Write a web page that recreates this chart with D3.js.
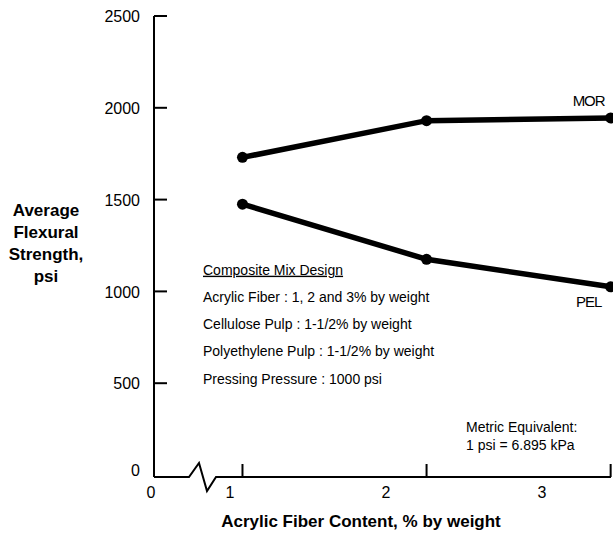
<!DOCTYPE html>
<html>
<head>
<meta charset="utf-8">
<script src="https://cdn.jsdelivr.net/npm/d3@7"></script>
<style>
  html, body { margin: 0; padding: 0; background: #fff; }
  svg { display: block; font-family: "Liberation Sans", Arial, Helvetica, sans-serif; }
</style>
</head>
<body>
<svg id="chart" width="613" height="543"></svg>
<script>
// Measured fiber contents (% by weight) for the three mixes
const fiberContent = [1.08, 2.26, 3.44];
// Average flexural strength, psi
const morValues = [1730, 1930, 1945];
const pelValues = [1475, 1175, 1025];
// Axis labels
const yTicks = [0, 500, 1000, 1500, 2000, 2500];
const xTickLabels = [1, 2, 3];
const mixDesign = [
  "Acrylic Fiber : 1, 2 and 3% by weight",
  "Cellulose Pulp : 1-1/2% by weight",
  "Polyethylene Pulp : 1-1/2% by weight",
  "Pressing Pressure : 1000 psi"
];
const metricNote = ["Metric Equivalent:", "1 psi = 6.895 kPa"];
const yTitle = ["Average", "Flexural", "Strength,", "psi"];

const svg = d3.select("#chart");

const x = d3.scaleLinear().domain([1, 3]).range([230, 542]);
const y = d3.scaleLinear().domain([0, 2500]).range([475, 16]);

const axisX0 = 154;       // y-axis position
const axisY0 = 477;       // x-axis baseline

// Y axis: vertical line with inward ticks
const gy = svg.append("g");
gy.append("line")
  .attr("x1", axisX0).attr("x2", axisX0)
  .attr("y1", y(2500)).attr("y2", axisY0)
  .attr("stroke", "#000").attr("stroke-width", 2);
gy.selectAll("line.tick").data(yTicks.filter(d => d > 0)).join("line")
  .attr("class", "tick")
  .attr("x1", axisX0).attr("x2", axisX0 + 13)
  .attr("y1", d => y(d)).attr("y2", d => y(d))
  .attr("stroke", "#000").attr("stroke-width", 2);
gy.selectAll("text").data(yTicks).join("text")
  .attr("x", axisX0 - 14)
  .attr("y", d => y(d) + (d === 0 ? -3 : 2))
  .attr("text-anchor", "end")
  .attr("dominant-baseline", "middle")
  .attr("font-size", 16)
  .text(d => d);

// X axis with a break between 0 and 1
const gx = svg.append("g");
const brk = [[axisX0, axisY0], [189, axisY0], [199, 463], [207, 491], [216, axisY0], [611, axisY0]];
gx.append("path")
  .attr("d", d3.line()(brk))
  .attr("fill", "none").attr("stroke", "#000").attr("stroke-width", 2)
  .attr("stroke-linejoin", "miter");
gx.selectAll("line.tick").data(fiberContent).join("line")
  .attr("class", "tick")
  .attr("x1", d => x(d)).attr("x2", d => x(d))
  .attr("y1", axisY0).attr("y2", axisY0 - 13)
  .attr("stroke", "#000").attr("stroke-width", 2);
gx.selectAll("text.lbl").data(xTickLabels).join("text")
  .attr("class", "lbl")
  .attr("x", d => x(d)).attr("y", 494)
  .attr("text-anchor", "middle").attr("dominant-baseline", "middle")
  .attr("font-size", 16)
  .text(d => d);
gx.append("text")
  .attr("x", 151).attr("y", 494)
  .attr("text-anchor", "middle").attr("dominant-baseline", "middle")
  .attr("font-size", 16)
  .text("0");

// Axis titles
svg.append("text")
  .attr("x", 361).attr("y", 523)
  .attr("text-anchor", "middle").attr("dominant-baseline", "middle")
  .attr("font-size", 17).attr("font-weight", "bold")
  .text("Acrylic Fiber Content, % by weight");
svg.append("g").selectAll("text").data(yTitle).join("text")
  .attr("x", 46).attr("y", (d, i) => 212 + i * 21.8)
  .attr("text-anchor", "middle").attr("dominant-baseline", "middle")
  .attr("font-size", 17).attr("font-weight", "bold")
  .text(d => d);

// Series
const series = [
  { name: "MOR", values: morValues, labelDy: -16 },
  { name: "PEL", values: pelValues, labelDy: 16 }
];
const line = d3.line().x((d, i) => x(fiberContent[i])).y(d => y(d));
series.forEach(s => {
  const g = svg.append("g");
  g.append("path")
    .attr("d", line(s.values))
    .attr("fill", "none").attr("stroke", "#000").attr("stroke-width", 5.5)
    .attr("stroke-linecap", "round");
  g.selectAll("circle").data(s.values).join("circle")
    .attr("cx", (d, i) => x(fiberContent[i]))
    .attr("cy", d => y(d))
    .attr("r", 5.5)
    .attr("fill", "#000");
  const last = s.values.length - 1;
  g.append("text")
    .attr("x", x(fiberContent[last]) - 22)
    .attr("y", y(s.values[last]) + s.labelDy)
    .attr("text-anchor", "middle").attr("dominant-baseline", "middle")
    .attr("font-size", 15).attr("letter-spacing", -1)
    .text(s.name);
});

// Mix design notes
const notes = svg.append("g").attr("font-size", 14);
notes.append("text")
  .attr("x", 203).attr("y", 271)
  .attr("dominant-baseline", "middle")
  .attr("text-decoration", "underline")
  .text("Composite Mix Design");
notes.selectAll("text.item").data(mixDesign).join("text")
  .attr("class", "item")
  .attr("x", 203).attr("y", (d, i) => 298 + i * 27.3)
  .attr("dominant-baseline", "middle")
  .text(d => d);

// Unit conversion note
svg.append("g").attr("font-size", 14).selectAll("text").data(metricNote).join("text")
  .attr("x", 466).attr("y", (d, i) => 428 + i * 18)
  .attr("dominant-baseline", "middle")
  .text(d => d);
</script>
</body>
</html>
